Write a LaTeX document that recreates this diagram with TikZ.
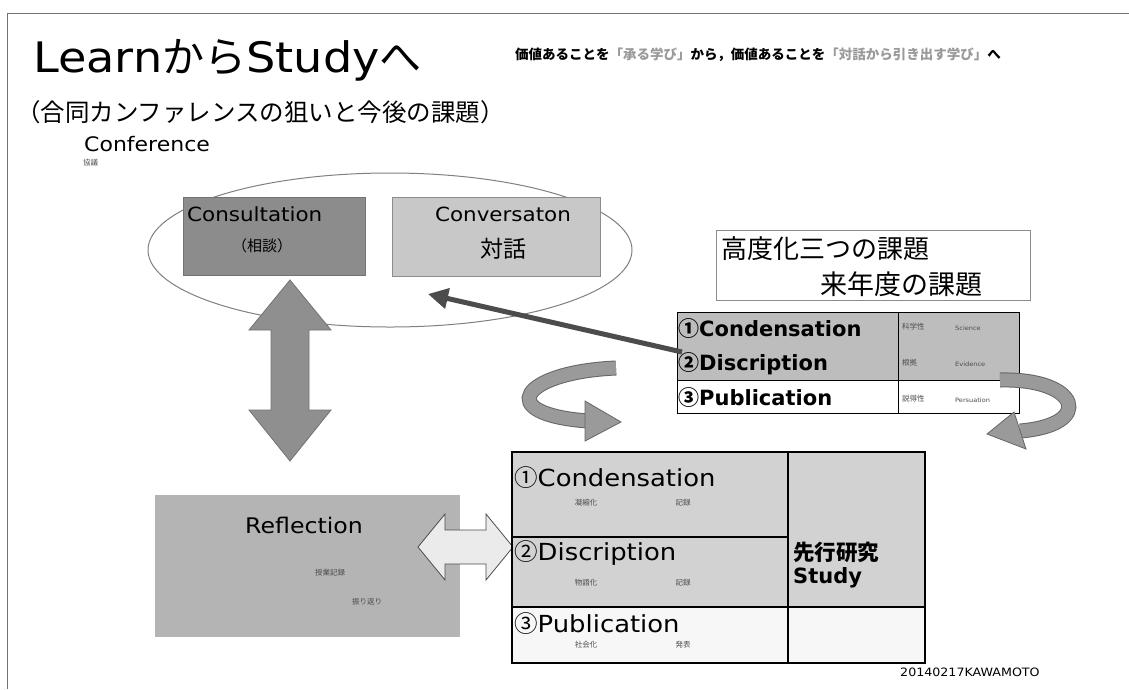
\documentclass[tikz,border=0pt]{standalone}
\usepackage{fontspec}
\setmainfont{Noto Sans CJK JP}
\newfontfamily\lat{DejaVu Sans}[FakeStretch=1.1]
\newfontfamily\latb{DejaVu Sans}
\usetikzlibrary{shapes.geometric,arrows.meta,calc}
\definecolor{darkbox}{HTML}{8C8C8C}
\definecolor{lightbox}{HTML}{C8C8C8}
\definecolor{tabgray}{HTML}{BDBDBD}
\definecolor{btgray}{HTML}{D2D2D2}
\definecolor{refgray}{HTML}{B4B4B4}
\definecolor{arrgray}{HTML}{8F8F8F}
\definecolor{bandgray}{HTML}{9A9A9A}
\definecolor{softtext}{HTML}{9A9A9A}
\tikzset{
  box/.style={anchor=north west, inner sep=0pt, outer sep=0pt},
  lbl/.style={anchor=west, inner sep=0pt},
  ctr/.style={anchor=center, inner sep=0pt},
  fs/.style={font=\fontsize{#1}{#1}\selectfont},
  small/.style={font=\fontsize{7.5}{8}\selectfont, text=black!70, inner sep=0pt},
  tiny/.style={font=\lat\fontsize{6}{7}\selectfont, text=black!70, inner sep=0pt},
}
\begin{document}
\begin{tikzpicture}[x=1pt,y=-1pt]
\useasboundingbox (0,0) rectangle (1129,689);
\fill[white] (0,0) rectangle (1129,689);
% frame
\draw[black!55, line width=1] (7,689) -- (7,13) -- (1129,13);

% titles
\node[lbl, fs=42] (title) at (33,60) {{\lat Learn}から{\lat Study}へ};
\node[lbl, fs=24.5] (subtitle) at (16,112) {（合同カンファレンスの狙いと今後の課題）};
\node[lbl, font=\fontsize{13.5}{14}\selectfont\bfseries] (tag) at (515,55)
  {価値あることを{\color{softtext}「承る学び」}から，価値あることを{\color{softtext}「対話から引き出す学び」}へ};
\node[lbl, font=\lat\fontsize{20}{20}\selectfont] (confT) at (84,144) {Conference};
\node[lbl, small] (kyogi) at (83,163) {協議};

% ellipse and its boxes
\node[ellipse, draw=black!50, line width=1, fill=white, minimum width=484, minimum height=154, inner sep=0pt] (conf) at (390,250) {};
\node[box, draw=black!55, fill=darkbox, minimum width=182, minimum height=78] (cons) at (183,197) {};
\node[lbl, font=\lat\fontsize{19.5}{20}\selectfont] (consT) at (187,214) {Consultation};
\node[ctr, fs=15] (consJ) at (262,246) {（相談）};
\node[box, draw=black!45, fill=lightbox, minimum width=208, minimum height=79] (conv) at (392,197) {};
\node[ctr, font=\lat\fontsize{19.5}{20}\selectfont] (convT) at (503,214) {Conversaton};
\node[ctr, fs=23] (convJ) at (503,249) {対話};

% top right heading box
\node[box, draw=black!45, fill=white, minimum width=314, minimum height=70] (kadai) at (716,230) {};
\node[lbl, fs=26] (kadai1) at (721,249) {高度化三つの課題};
\node[lbl, fs=27] (kadai2) at (820,284) {来年度の課題};

% top right table
\node[box, fill=tabgray, minimum width=342, minimum height=68] (tr12) at (677,312) {};
\node[box, fill=white, minimum width=342, minimum height=33] (tr3) at (677,380) {};
\draw[black, line width=1] (677,312) rectangle (1019,413);
\draw[black, line width=1] (677,380) -- (1019,380);
\draw[black, line width=1] (898,312) -- (898,413);
\node[lbl, font=\bfseries\fontsize{21}{21}\selectfont] (a1) at (678,329) {①{\latb\bfseries Condensation}};
\node[lbl, font=\bfseries\fontsize{21}{21}\selectfont] (a2) at (678,364) {②{\latb\bfseries Discription}};
\node[lbl, font=\bfseries\fontsize{21}{21}\selectfont] (a3) at (678,398) {③{\latb\bfseries Publication}};
\node[lbl, small] (s1) at (902,327) {科学性};
\node[lbl, tiny] (e1) at (955,328) {Science};
\node[lbl, small] (s2) at (902,363) {根拠};
\node[lbl, tiny] (e2) at (955,364) {Evidence};
\node[lbl, small] (s3) at (902,399) {説得性};
\node[lbl, tiny] (e3) at (955,400) {Persuation};

% dark arrow from table to ellipse
\coordinate (darkStart) at (682,352);
\coordinate (darkEnd) at (428,294);
\draw[black!70, line width=5, -{Triangle[width=20,length=20]}] (darkStart) -- (darkEnd);

% vertical double arrow
\fill[arrgray, draw=black!55, line width=0.8]
  (290,280) -- (331,330) -- (309,330) -- (309,410) -- (331,410) -- (290,461)
  -- (249,410) -- (271,410) -- (271,330) -- (249,330) -- cycle;

% Reflection box
\node[box, fill=refgray, minimum width=305, minimum height=142] (refl) at (155,495) {};
\node[ctr, font=\lat\fontsize{21.5}{22}\selectfont] (reflT) at (304,525) {Reflection};
\node[ctr, small] (r1) at (330,573) {授業記録};
\node[ctr, small] (r2) at (367,602) {振り返り};

% horizontal double arrow
\fill[black!8, draw=black!70, line width=0.8]
  (418,547) -- (445,514) -- (445,530) -- (486,530) -- (486,514) -- (513,547)
  -- (486,580) -- (486,564) -- (445,564) -- (445,580) -- cycle;

% bottom table
\node[box, fill=btgray, minimum width=276, minimum height=155] (b12) at (512,452) {};
\node[box, fill=btgray, minimum width=137, minimum height=155] (study) at (788,452) {};
\node[box, fill=black!3, minimum width=276, minimum height=56] (b3) at (512,607) {};
\node[box, fill=black!3, minimum width=137, minimum height=56] (b3r) at (788,607) {};
\draw[black, line width=1.8] (512,452) rectangle (925,663);
\draw[black, line width=1.8] (788,452) -- (788,663);
\draw[black, line width=1.8] (512,537) -- (788,537);
\draw[black, line width=1.8] (512,607) -- (925,607);
\node[lbl, fs=23.5] (b1T) at (514,478) {①{\lat Condensation}};
\node[ctr, small] (b1a) at (586,503) {凝縮化};
\node[ctr, small] (b1b) at (683,503) {記録};
\node[lbl, fs=23.5] (b2T) at (514,553) {②{\lat Discription}};
\node[ctr, small] (b2a) at (586,583) {物語化};
\node[ctr, small] (b2b) at (683,583) {記録};
\node[lbl, fs=23.5] (b3T) at (514,624) {③{\lat Publication}};
\node[ctr, small] (b3a) at (586,645) {社会化};
\node[ctr, small] (b3b) at (683,645) {発表};
\node[lbl, font=\bfseries\fontsize{21.5}{22}\selectfont] (sk) at (793,552) {先行研究};
\node[lbl, font=\latb\bfseries\fontsize{21}{22}\selectfont] (st) at (793,578) {Study};

% curved arrows
\coordinate (lcS) at (616,368);
\coordinate (lcE) at (588,421);
\draw[black!60, line width=15] (lcS) .. controls (522,372) and (492,414) .. (lcE);
\draw[bandgray, line width=13] (lcS) .. controls (522,372) and (492,414) .. (lcE);
\fill[bandgray, draw=black!60, line width=0.8] (585,401) -- (621,422) -- (585,441) -- cycle;

\coordinate (rcS) at (1000,380);
\coordinate (rcE) at (1020,431);
\draw[black!60, line width=15] (rcS) .. controls (1080,378) and (1095,425) .. (rcE);
\draw[bandgray, line width=13] (rcS) .. controls (1080,378) and (1095,425) .. (rcE);
\fill[bandgray, draw=black!60, line width=0.8] (1014,412) -- (987,434) -- (1026,449) -- cycle;

% signature
\node[lbl, font=\lat\fontsize{11.5}{12}\selectfont] (sig) at (900,672) {20140217KAWAMOTO};
\end{tikzpicture}
\end{document}
